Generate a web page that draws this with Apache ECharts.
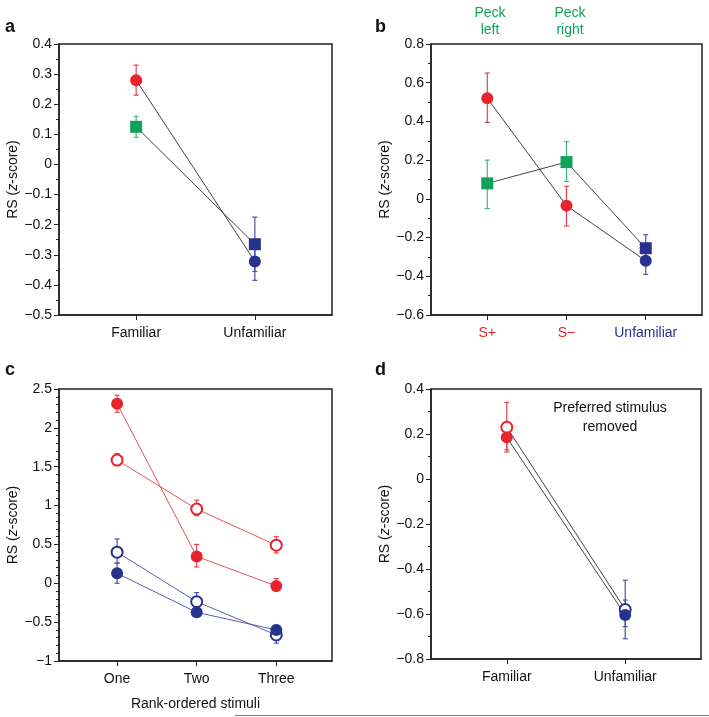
<!DOCTYPE html>
<html>
<head>
<meta charset="utf-8">
<script src="https://cdn.jsdelivr.net/npm/echarts@6/dist/echarts.min.js"></script>
<style>
  html, body { margin: 0; padding: 0; background: #fff; }
  #chart { width: 709px; height: 717px; }
</style>
</head>
<body>
<div id="chart"></div>
<script>
// ---- data ----
// panel a
const catsA = ['Familiar', 'Unfamiliar'];
const aCircle = [0.28, -0.322];
const aCircleLo = [0.23, -0.385];
const aCircleHi = [0.33, -0.26];
const aSquare = [0.125, -0.265];
const aSquareLo = [0.09, -0.355];
const aSquareHi = [0.16, -0.175];

// panel b
const catsB = ['S+', 'S\u2212', 'Unfamiliar'];
const peckLabels = ['Peck\nleft', 'Peck\nright'];
const bCircle = [0.52, -0.035, -0.32];
const bCircleLo = [0.395, -0.14, -0.39];
const bCircleHi = [0.65, 0.065, -0.25];
const bSquare = [0.08, 0.19, -0.255];
const bSquareLo = [-0.05, 0.09, -0.32];
const bSquareHi = [0.2, 0.295, -0.185];

// panel c
const catsC = ['One', 'Two', 'Three'];
const cRedFilled = [2.31, 0.345, -0.035];
const cRedFilledLo = [2.2, 0.21, -0.1];
const cRedFilledHi = [2.42, 0.5, 0.06];
const cRedOpen = [1.585, 0.955, 0.49];
const cRedOpenLo = [1.52, 0.87, 0.39];
const cRedOpenHi = [1.67, 1.07, 0.6];
const cBlueOpen = [0.4, -0.237, -0.665];
const cBlueOpenLo = [0.26, -0.33, -0.77];
const cBlueOpenHi = [0.57, -0.12, -0.56];
const cBlueFilled = [0.128, -0.374, -0.6];
const cBlueFilledLo = [0.0, -0.42, -0.66];
const cBlueFilledHi = [0.26, -0.32, -0.54];

// panel d
const catsD = ['Familiar', 'Unfamiliar'];
const dOpen = [0.23, -0.58];
const dOpenLo = [0.12, -0.71];
const dOpenHi = [0.34, -0.45];
const dFilled = [0.185, -0.604];
const dFilledLo = [0.13, -0.656];
const dFilledHi = [0.24, -0.538];
const dNote = 'Preferred stimulus\nremoved';

// ---- styles ----
const RED = '#e8232b';
const GREEN = '#0fa258';
const BLUE = '#27318e';
const RED_ERR = '#e8414c';
const GREEN_ERR = '#3db878';
const BLUE_ERR = '#4a54a6';
const FONT = '"Liberation Sans", Arial, Helvetica, sans-serif';
const AXIS = '#222';

const pos = cats => cats.map((_, i) => i + 1);

function errRender (params, api) {
  const x = api.value(0);
  const lo = api.coord([x, api.value(1)]);
  const hi = api.coord([x, api.value(2)]);
  const w = 2.5;
  const style = { stroke: api.visual('color'), lineWidth: 1.2 };
  return {
    type: 'group',
    children: [
      { type: 'line', shape: { x1: lo[0], y1: lo[1], x2: hi[0], y2: hi[1] }, style },
      { type: 'line', shape: { x1: lo[0] - w, y1: lo[1], x2: lo[0] + w, y2: lo[1] }, style },
      { type: 'line', shape: { x1: hi[0] - w, y1: hi[1], x2: hi[0] + w, y2: hi[1] }, style }
    ]
  };
}

// one connected track: line + error bars + markers
function track (gi, cats, vals, lo, hi, colors, errColors, lineColor, symbol, open) {
  const xs = pos(cats);
  return [
    {
      type: 'line', xAxisIndex: gi, yAxisIndex: gi, z: 2, silent: true,
      symbol: 'none',
      lineStyle: { color: lineColor, width: 1 },
      data: xs.map((x, i) => [x, vals[i]])
    },
    {
      type: 'custom', xAxisIndex: gi, yAxisIndex: gi, z: 3, silent: true,
      renderItem: errRender,
      data: xs.map((x, i) => ({ value: [x, lo[i], hi[i]], itemStyle: { color: errColors[i] } }))
    },
    {
      type: 'scatter', xAxisIndex: gi, yAxisIndex: gi, z: 4, silent: true,
      symbol: symbol, symbolSize: open ? 11 : 12,
      data: xs.map((x, i) => ({
        value: [x, vals[i]],
        itemStyle: open
          ? { color: '#fff', borderColor: colors[i], borderWidth: 2, opacity: 1 }
          : { color: colors[i], opacity: 1 }
      }))
    }
  ];
}

const grids = [
  { left: 59, top: 44, width: 273, height: 271 },
  { left: 431, top: 44, width: 271, height: 271 },
  { left: 59, top: 389, width: 273, height: 272 },
  { left: 431, top: 389, width: 270, height: 270 }
].map(g => Object.assign(g, { show: true, borderColor: AXIS, borderWidth: 1.5, backgroundColor: 'transparent' }));

function xAxis (gi, cats, min, max, labelColors, name) {
  const xs = pos(cats);
  const rich = {};
  cats.forEach((c, i) => { rich['c' + i] = { color: labelColors ? labelColors[i] : '#111', fontSize: 14, fontFamily: FONT } });
  return {
    type: 'value', gridIndex: gi, min: min, max: max,
    axisLine: { show: true, onZero: false, lineStyle: { color: AXIS, width: 1.5 } },
    axisTick: { show: true, length: 5, customValues: xs, lineStyle: { color: AXIS } },
    axisLabel: {
      customValues: xs, margin: 11,
      formatter: v => {
        const i = Math.round(v) - 1;
        return '{c' + i + '|' + cats[i] + '}';
      },
      rich: rich
    },
    splitLine: { show: false },
    name: name || '',
    nameLocation: 'middle', nameGap: 36,
    nameTextStyle: { color: '#111', fontSize: 14, fontFamily: FONT }
  };
}

function yAxis (gi, min, max, interval, minorSplit) {
  return {
    type: 'value', gridIndex: gi, min: min, max: max, interval: interval,
    axisLine: { show: true, onZero: false, lineStyle: { color: AXIS, width: 1.5 } },
    axisTick: { show: true, length: 5, lineStyle: { color: AXIS } },
    minorTick: { show: true, splitNumber: minorSplit, length: 3, lineStyle: { color: AXIS } },
    axisLabel: {
      color: '#111', fontSize: 14, fontFamily: FONT, margin: 7,
      formatter: v => String(Math.round(v * 100) / 100).replace('-', '\u2212')
    },
    splitLine: { show: false },
    minorSplitLine: { show: false },
    name: '{n|RS (}{i|z}{n|-score)}',
    nameLocation: 'middle', nameGap: 34,
    nameTextStyle: {
      rich: {
        n: { color: '#111', fontSize: 14, fontFamily: FONT },
        i: { color: '#111', fontSize: 14, fontFamily: FONT, fontStyle: 'italic' }
      }
    }
  };
}

const panelLetter = (t, x, y) => ({
  type: 'text', left: x, top: y,
  style: { text: t, font: 'bold 18px ' + FONT, fill: '#111' }
});

const option = {
  animation: false,
  backgroundColor: '#fff',
  grid: grids,
  xAxis: [
    xAxis(0, catsA, 0.35, 2.65),
    xAxis(1, catsB, 0.29, 3.71, [RED, RED, BLUE]),
    xAxis(2, catsC, 0.27, 3.7, null, 'Rank-ordered stimuli'),
    xAxis(3, catsD, 0.36, 2.64)
  ],
  yAxis: [
    yAxis(0, -0.5, 0.4, 0.1, 2),
    yAxis(1, -0.6, 0.8, 0.2, 2),
    yAxis(2, -1, 2.5, 0.5, 5),
    yAxis(3, -0.8, 0.4, 0.2, 2)
  ],
  graphic: [
    panelLetter('a', 5, 18),
    panelLetter('b', 375, 18),
    panelLetter('c', 5, 361),
    panelLetter('d', 375, 361),
    {
      type: 'text', x: 490, y: 21.5,
      style: { text: peckLabels[0], font: '14px ' + FONT, fill: GREEN, align: 'center', verticalAlign: 'middle', lineHeight: 17 }
    },
    {
      type: 'text', x: 570, y: 21.5,
      style: { text: peckLabels[1], font: '14px ' + FONT, fill: GREEN, align: 'center', verticalAlign: 'middle', lineHeight: 17 }
    },
    {
      type: 'text', x: 610, y: 418,
      style: { text: dNote, font: '14px ' + FONT, fill: '#111', align: 'center', verticalAlign: 'middle', lineHeight: 19 }
    },
    {
      type: 'line', shape: { x1: 235, y1: 715.5, x2: 709, y2: 715.5 },
      style: { stroke: '#777', lineWidth: 1 }
    }
  ],
  series: [].concat(
    track(0, catsA, aSquare, aSquareLo, aSquareHi, [GREEN, BLUE], [GREEN_ERR, BLUE_ERR], '#444', 'rect', false),
    track(0, catsA, aCircle, aCircleLo, aCircleHi, [RED, BLUE], [RED_ERR, BLUE_ERR], '#444', 'circle', false),
    track(1, catsB, bSquare, bSquareLo, bSquareHi, [GREEN, GREEN, BLUE], [GREEN_ERR, GREEN_ERR, BLUE_ERR], '#444', 'rect', false),
    track(1, catsB, bCircle, bCircleLo, bCircleHi, [RED, RED, BLUE], [RED_ERR, RED_ERR, BLUE_ERR], '#444', 'circle', false),
    track(2, catsC, cRedOpen, cRedOpenLo, cRedOpenHi, [RED, RED, RED], [RED_ERR, RED_ERR, RED_ERR], '#e8555c', 'circle', true),
    track(2, catsC, cRedFilled, cRedFilledLo, cRedFilledHi, [RED, RED, RED], [RED_ERR, RED_ERR, RED_ERR], '#e8555c', 'circle', false),
    track(2, catsC, cBlueOpen, cBlueOpenLo, cBlueOpenHi, [BLUE, BLUE, BLUE], [BLUE_ERR, BLUE_ERR, BLUE_ERR], '#5a60a8', 'circle', true),
    track(2, catsC, cBlueFilled, cBlueFilledLo, cBlueFilledHi, [BLUE, BLUE, BLUE], [BLUE_ERR, BLUE_ERR, BLUE_ERR], '#5a60a8', 'circle', false),
    track(3, catsD, dOpen, dOpenLo, dOpenHi, [RED, BLUE], [RED_ERR, BLUE_ERR], '#444', 'circle', true),
    track(3, catsD, dFilled, dFilledLo, dFilledHi, [RED, BLUE], [RED_ERR, BLUE_ERR], '#444', 'circle', false)
  )
};

const myChart = echarts.init(document.getElementById('chart'));
myChart.setOption(option);
</script>
</body>
</html>
